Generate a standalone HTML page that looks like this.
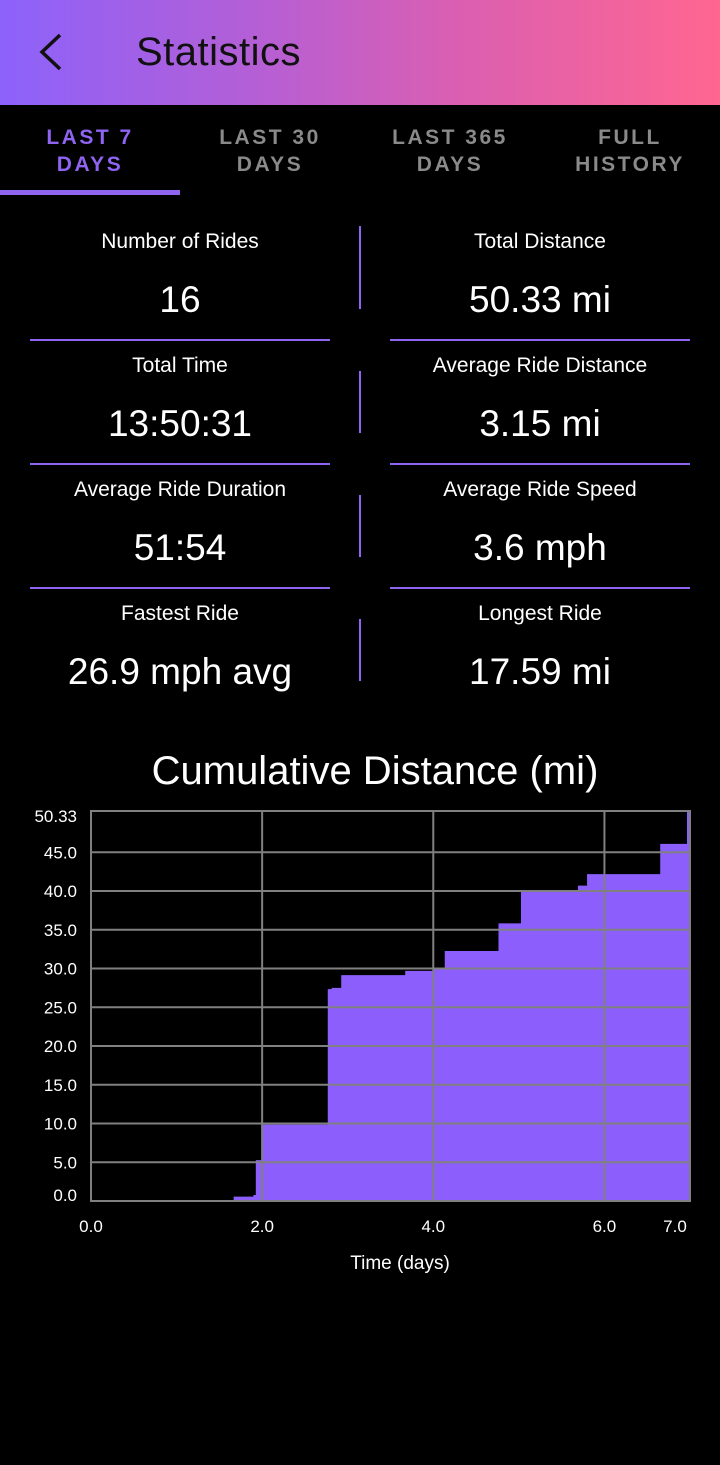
<!DOCTYPE html>
<html><head><meta charset="utf-8">
<style>
html,body{margin:0;padding:0;background:#000;width:720px;height:1465px;overflow:hidden;font-family:"Liberation Sans",sans-serif;color:#fff}
.hdr{position:absolute;left:0;top:0;width:720px;height:105px;background:linear-gradient(90deg,#8c62fb,#b45fd6 35%,#dc5fb0 65%,#ff6690)}
.title{position:absolute;left:136px;top:30px;font-size:40px;color:#111;letter-spacing:0.5px}
.back{position:absolute;left:36px;top:32px}
.tab{position:absolute;top:124px;width:180px;text-align:center;font-size:21px;line-height:27px;letter-spacing:2.5px;color:#8a8a8a;font-weight:bold}
.tab.on{color:#8e64f0}
.ul{position:absolute;left:0;top:190px;width:180px;height:5px;background:#8e64f0}
.cell{position:absolute;width:300px;text-align:center}
.lab{font-size:21px;line-height:24px}
.val{font-size:37px;line-height:42px;margin-top:25px}
.hl{position:absolute;height:2px;width:300px;background:#8e64f0}
.vl{position:absolute;left:359px;width:2px;background:#8e64f0}
</style></head><body>
<div class="hdr"></div>
<svg class="back" width="30" height="40"><polyline points="24,3 6,20 24,37" fill="none" stroke="#111" stroke-width="3.5"/></svg>
<div class="title">Statistics</div>

<div class="tab on" style="left:0">LAST 7<br>DAYS</div>
<div class="tab" style="left:180px">LAST 30<br>DAYS</div>
<div class="tab" style="left:360px">LAST 365<br>DAYS</div>
<div class="tab" style="left:540px">FULL<br>HISTORY</div>
<div class="ul"></div>

<div class="cell" style="left:30px;top:230px"><div class="lab">Number of Rides</div><div class="val">16</div></div>
<div class="cell" style="left:390px;top:230px"><div class="lab">Total Distance</div><div class="val">50.33 mi</div></div>
<div class="cell" style="left:30px;top:354px"><div class="lab">Total Time</div><div class="val">13:50:31</div></div>
<div class="cell" style="left:390px;top:354px"><div class="lab">Average Ride Distance</div><div class="val">3.15 mi</div></div>
<div class="cell" style="left:30px;top:478px"><div class="lab">Average Ride Duration</div><div class="val">51:54</div></div>
<div class="cell" style="left:390px;top:478px"><div class="lab">Average Ride Speed</div><div class="val">3.6 mph</div></div>
<div class="cell" style="left:30px;top:602px"><div class="lab">Fastest Ride</div><div class="val">26.9 mph avg</div></div>
<div class="cell" style="left:390px;top:602px"><div class="lab">Longest Ride</div><div class="val">17.59 mi</div></div>

<div class="hl" style="left:30px;top:339px"></div>
<div class="hl" style="left:390px;top:339px"></div>
<div class="hl" style="left:30px;top:463px"></div>
<div class="hl" style="left:390px;top:463px"></div>
<div class="hl" style="left:30px;top:587px"></div>
<div class="hl" style="left:390px;top:587px"></div>
<div class="vl" style="top:226px;height:83px"></div>
<div class="vl" style="top:371px;height:62px"></div>
<div class="vl" style="top:495px;height:62px"></div>
<div class="vl" style="top:619px;height:62px"></div>

<svg id="chart" width="720" height="560" style="position:absolute;left:0;top:730px"></svg>
<script>
const stepDays=[0,1.667,1.898,1.926,1.99,2.767,2.813,2.924,3.672,4.0,4.134,4.762,5.025,5.69,5.797,6.652,6.965];
const stepValues=[0,0.56,0.77,5.27,9.86,27.35,27.5,29.15,29.7,30.0,32.27,35.83,39.95,40.7,42.18,46.08,50.33];
const yTicks=[0,5,10,15,20,25,30,35,40,45,50.33];
const yTickLabels=["0.0","5.0","10.0","15.0","20.0","25.0","30.0","35.0","40.0","45.0","50.33"];
const xTicks=[0,2,4,6,7];
const xTickLabels=["0.0","2.0","4.0","6.0","7.0"];
const X0=91,X1=690,Y0=471,Y1=81,XMAX=7.0,YMAX=50.33;
const svg=document.getElementById('chart');
const NS='http://www.w3.org/2000/svg';
const sx=d=>X0+(X1-X0)*d/XMAX;
const sy=v=>Y0-(Y0-Y1)*v/YMAX;
function mk(t,a){const e=document.createElementNS(NS,t);for(const k in a)e.setAttribute(k,a[k]);svg.appendChild(e);return e;}
const ttl=mk('text',{x:375,y:54,'text-anchor':'middle','font-size':40,fill:'#fff'});
ttl.textContent='Cumulative Distance (mi)';


let d='M'+sx(stepDays[0])+','+sy(0);
for(let i=0;i<stepDays.length;i++){
  const x=sx(stepDays[i]);
  d+=' L'+x+','+sy(i?stepValues[i-1]:0)+' L'+x+','+sy(stepValues[i]);
}
d+=' L'+sx(XMAX)+','+sy(stepValues[stepValues.length-1])+' L'+sx(XMAX)+','+sy(0)+' Z';
const area=mk('path',{d:d,fill:'#8c5ffc'});


yTicks.forEach((v,i)=>{
  if(i<yTicks.length-1){const g=mk('line',{x1:X0,x2:X1,y1:sy(v),y2:sy(v),stroke:'#808080','stroke-width':2});
  
  }
  const off=i===0?0:(i===yTicks.length-1?11:6);
  const t=mk('text',{x:77,y:sy(v)+off,'text-anchor':'end','font-size':17,fill:'#fff'});
  t.textContent=yTickLabels[i];
  
  
});
xTicks.forEach((v,i)=>{
  if(v>0&&v<XMAX){const g=mk('line',{x1:sx(v),x2:sx(v),y1:Y1,y2:Y0,stroke:'#808080','stroke-width':2});
  
  }
  const t=mk('text',{x:sx(v)-(v==XMAX?15:0),y:502,'text-anchor':'middle','font-size':17,fill:'#fff'});
  t.textContent=xTickLabels[i];
  
  
});
const fr=mk('rect',{x:X0,y:Y1,width:X1-X0,height:Y0-Y1,fill:'none',stroke:'#808080','stroke-width':2});


const xt=mk('text',{x:400,y:539,'text-anchor':'middle','font-size':19,fill:'#fff'});
xt.textContent='Time (days)';


</script>
</body></html>
